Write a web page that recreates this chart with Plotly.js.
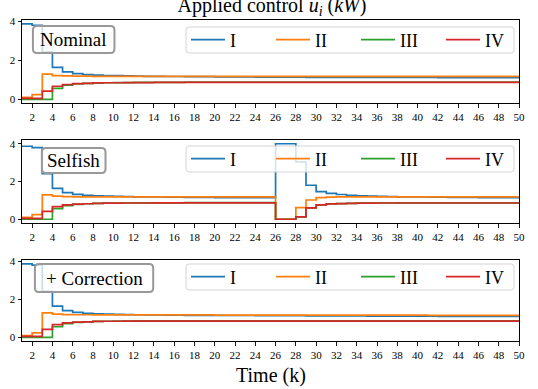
<!DOCTYPE html>
<html>
<head>
<meta charset="utf-8">
<script src="https://cdn.plot.ly/plotly-3.0.1.min.js"></script>
<style>html,body{margin:0;padding:0;background:#fff;} #chart{width:538px;height:389px;}</style>
</head>
<body>
<div id="chart"></div>
<script>
// ---- data ----
const k = [1,2,3,4,5,6,7,8,9,10,11,12,13,14,15,16,17,18,19,20,21,22,23,24,25,26,27,28,29,30,31,32,33,34,35,36,37,38,39,40,41,42,43,44,45,46,47,48,49,50];
const seriesNames = ['I', 'II', 'III', 'IV'];
const panelLabels = ['Nominal', 'Selfish', '+ Correction'];

const nominal_I   = [3.87,3.80,2.42,1.64,1.41,1.32,1.27,1.24,1.22,1.21,1.20,1.19,1.18,1.18,1.17,1.17,1.16,1.16,1.16,1.15,1.15,1.15,1.15,1.14,1.14,1.14,1.14,1.14,1.13,1.13,1.13,1.13,1.13,1.13,1.12,1.12,1.12,1.12,1.12,1.12,1.12,1.11,1.11,1.11,1.11,1.11,1.11,1.11,1.11,1.11];
const nominal_II  = [0.10,0.24,1.29,1.22,1.20,1.19,1.19,1.18,1.18,1.18,1.18,1.18,1.18,1.18,1.18,1.18,1.18,1.18,1.18,1.18,1.18,1.18,1.18,1.18,1.18,1.18,1.18,1.18,1.18,1.18,1.18,1.18,1.18,1.18,1.18,1.18,1.18,1.18,1.18,1.18,1.18,1.18,1.18,1.18,1.18,1.18,1.18,1.18,1.18,1.18];
const nominal_III = [0.00,0.00,0.00,0.56,0.72,0.79,0.82,0.84,0.85,0.86,0.86,0.87,0.87,0.87,0.87,0.87,0.88,0.88,0.88,0.88,0.88,0.88,0.88,0.88,0.88,0.88,0.88,0.88,0.88,0.88,0.88,0.88,0.88,0.88,0.88,0.88,0.88,0.88,0.88,0.88,0.88,0.88,0.88,0.88,0.88,0.88,0.88,0.88,0.88,0.88];
const nominal_IV  = [0.05,0.05,0.42,0.67,0.76,0.80,0.82,0.84,0.85,0.85,0.86,0.86,0.86,0.87,0.87,0.87,0.87,0.87,0.87,0.87,0.87,0.87,0.87,0.87,0.87,0.87,0.87,0.87,0.87,0.87,0.87,0.87,0.87,0.87,0.87,0.87,0.87,0.87,0.87,0.87,0.87,0.87,0.87,0.87,0.87,0.87,0.87,0.87,0.87,0.87];

const selfish_I   = [3.87,3.80,2.42,1.64,1.41,1.32,1.27,1.24,1.22,1.21,1.20,1.19,1.18,1.18,1.17,1.17,1.16,1.16,1.16,1.15,1.15,1.15,1.15,1.14,1.14,4.00,4.00,3.04,1.80,1.46,1.37,1.31,1.27,1.24,1.22,1.21,1.20,1.19,1.18,1.18,1.17,1.17,1.16,1.16,1.16,1.15,1.15,1.15,1.15,1.15];
const selfish_II  = [0.10,0.24,1.29,1.22,1.20,1.19,1.19,1.18,1.18,1.18,1.18,1.18,1.18,1.18,1.18,1.18,1.18,1.18,1.18,1.18,1.18,1.18,1.18,1.18,1.18,0.00,0.00,0.62,1.02,1.14,1.17,1.18,1.18,1.18,1.18,1.18,1.18,1.18,1.18,1.18,1.18,1.18,1.18,1.18,1.18,1.18,1.18,1.18,1.18,1.18];
const selfish_III = [0.00,0.00,0.00,0.56,0.72,0.79,0.82,0.84,0.85,0.86,0.86,0.87,0.87,0.87,0.87,0.87,0.88,0.88,0.88,0.88,0.88,0.88,0.88,0.88,0.88,0.00,0.00,0.12,0.60,0.76,0.81,0.83,0.84,0.85,0.86,0.86,0.86,0.87,0.87,0.87,0.87,0.87,0.87,0.87,0.87,0.87,0.87,0.87,0.87,0.87];
const selfish_IV  = [0.05,0.05,0.42,0.67,0.76,0.80,0.82,0.84,0.85,0.85,0.86,0.86,0.86,0.87,0.87,0.87,0.87,0.87,0.87,0.87,0.87,0.87,0.87,0.87,0.87,0.00,0.00,0.12,0.60,0.76,0.81,0.83,0.84,0.85,0.85,0.86,0.86,0.86,0.86,0.86,0.86,0.86,0.86,0.86,0.86,0.86,0.86,0.86,0.86,0.86];

const correction_I   = [3.87,3.80,2.42,1.64,1.41,1.32,1.27,1.24,1.22,1.21,1.20,1.19,1.18,1.18,1.17,1.17,1.16,1.16,1.16,1.15,1.15,1.15,1.15,1.14,1.14,1.14,1.14,1.14,1.13,1.13,1.13,1.13,1.13,1.13,1.12,1.12,1.12,1.12,1.12,1.12,1.12,1.11,1.11,1.11,1.11,1.11,1.11,1.11,1.10,1.10];
const correction_II  = [0.10,0.24,1.29,1.22,1.20,1.19,1.19,1.18,1.18,1.18,1.18,1.18,1.18,1.18,1.18,1.18,1.18,1.18,1.18,1.17,1.17,1.17,1.17,1.17,1.17,1.17,1.17,1.17,1.17,1.17,1.17,1.17,1.17,1.17,1.17,1.17,1.17,1.17,1.17,1.17,1.16,1.16,1.16,1.16,1.16,1.16,1.16,1.16,1.16,1.16];
const correction_III = [0.00,0.00,0.00,0.56,0.72,0.79,0.82,0.84,0.85,0.86,0.86,0.87,0.87,0.87,0.87,0.87,0.87,0.87,0.87,0.87,0.87,0.87,0.87,0.87,0.87,0.87,0.87,0.87,0.87,0.87,0.87,0.87,0.87,0.87,0.87,0.87,0.87,0.87,0.87,0.87,0.87,0.87,0.87,0.87,0.87,0.87,0.87,0.87,0.87,0.87];
const correction_IV  = [0.05,0.05,0.42,0.67,0.76,0.80,0.82,0.84,0.85,0.85,0.86,0.86,0.86,0.86,0.86,0.86,0.86,0.86,0.86,0.86,0.86,0.86,0.86,0.86,0.86,0.86,0.86,0.86,0.86,0.86,0.86,0.86,0.86,0.86,0.86,0.86,0.86,0.86,0.86,0.86,0.86,0.86,0.86,0.86,0.86,0.86,0.86,0.86,0.86,0.86];

const xTicks = [2,4,6,8,10,12,14,16,18,20,22,24,26,28,30,32,34,36,38,40,42,44,46,48,50];
const yTicks = [0,2,4];

// ---- styling ----
const colors = ['#1f77b4', '#ff7f0e', '#2ca02c', '#d62728'];
const FONT = 'Liberation Serif, Times New Roman, serif';
const panels = [
  [nominal_I, nominal_II, nominal_III, nominal_IV],
  [selfish_I, selfish_II, selfish_III, selfish_IV],
  [correction_I, correction_II, correction_III, correction_IV]
];

// pixel geometry of plot area
const W = 538, H = 389, L = 22, R = 16, T = 20, B = 48;
const PW = W - L - R, PH = H - T - B;
const px2x = p => (p - L) / PW;
const py2y = p => (H - B - p) / PH;

const traces = [];
panels.forEach((series, pi) => {
  series.forEach((vals, si) => {
    traces.push({
      x: k, y: vals,
      type: 'scatter', mode: 'lines',
      line: {shape: 'hv', color: colors[si], width: 1.7},
      name: seriesNames[si],
      xaxis: pi === 0 ? 'x' : 'x' + (pi + 1),
      yaxis: pi === 0 ? 'y' : 'y' + (pi + 1),
      legend: pi === 0 ? 'legend' : 'legend' + (pi + 1),
      hoverinfo: 'skip'
    });
  });
});

const domains = [[py2y(103), py2y(20)], [py2y(223), py2y(140)], [0, py2y(260)]];
const yRanges = [[-0.19, 4.07], [-0.2, 4.2], [-0.19, 4.07]];

function xAxis(anchor) {
  return {
    anchor: anchor, domain: [0, 1], range: [1, 50],
    tickmode: 'array', tickvals: xTicks, ticktext: xTicks.map(String),
    ticks: 'outside', ticklen: 3.5, tickwidth: 0.9, tickcolor: '#000',
    showline: true, mirror: true, linecolor: '#000', linewidth: 1,
    showgrid: false, zeroline: false,
    tickfont: {family: FONT, size: 11, color: '#000'}
  };
}
function yAxis(anchor, dom, rng) {
  return {
    anchor: anchor, domain: dom, range: rng,
    tickmode: 'array', tickvals: yTicks, ticktext: yTicks.map(String),
    ticks: 'outside', ticklen: 3.5, tickwidth: 0.9, tickcolor: '#000',
    showline: true, mirror: true, linecolor: '#000', linewidth: 1,
    showgrid: false, zeroline: false,
    tickfont: {family: FONT, size: 11, color: '#000'}
  };
}
// legend frames (rounded boxes) in pixels: [left, top, right, bottom]
const legendBoxes = [[187, 27, 517, 53], [187, 146, 517, 172], [187, 264, 517, 290]];
function legendAt(b) {
  return {
    orientation: 'h', x: px2x(b[0]), xanchor: 'left', y: py2y((b[1] + b[3]) / 2), yanchor: 'middle',
    xref: 'paper', yref: 'paper',
    bgcolor: 'rgba(0,0,0,0)', borderwidth: 0,
    font: {family: FONT, size: 18, color: '#000'},
    itemwidth: 34, entrywidth: 36, entrywidthmode: 'pixels', traceorder: 'normal',
    valign: 'middle'
  };
}

// rounded box shape in paper coords
function roundedBox(x0p, y0p, x1p, y1p, r, fill, lineColor, lineWidth) {
  const X = px2x, Y = py2y;
  const p = [
    'M', X(x0p + r), Y(y0p),
    'L', X(x1p - r), Y(y0p),
    'Q', X(x1p), Y(y0p), X(x1p), Y(y0p + r),
    'L', X(x1p), Y(y1p - r),
    'Q', X(x1p), Y(y1p), X(x1p - r), Y(y1p),
    'L', X(x0p + r), Y(y1p),
    'Q', X(x0p), Y(y1p), X(x0p), Y(y1p - r),
    'L', X(x0p), Y(y0p + r),
    'Q', X(x0p), Y(y0p), X(x0p + r), Y(y0p), 'Z'
  ];
  let s = '';
  for (let i = 0; i < p.length; i++) {
    const v = p[i];
    if (typeof v === 'string') s += v + ' ';
    else { s += v.toFixed(5) + (typeof p[i + 1] === 'number' ? ',' : ' '); }
  }
  return {
    type: 'path', path: s.trim(), xref: 'paper', yref: 'paper', layer: 'above',
    fillcolor: fill, line: {color: lineColor, width: lineWidth}
  };
}
const boxes = [[33, 26, 115, 53], [42, 148, 106, 173], [35, 264, 154, 292]];
const shapes = legendBoxes.map(b => roundedBox(b[0], b[1], b[2], b[3], 3, 'rgba(255,255,255,0.8)', '#d4d4d4', 1))
  .concat(boxes.map(b => roundedBox(b[0], b[1], b[2], b[3], 4, 'rgba(255,255,255,0.75)', '#999999', 2)));
const annotations = boxes.map((b, i) => ({
  text: panelLabels[i], xref: 'paper', yref: 'paper',
  x: px2x((b[0] + b[2]) / 2), y: py2y((b[1] + b[3]) / 2),
  xanchor: 'center', yanchor: 'middle', showarrow: false,
  font: {family: FONT, size: 19, color: '#000'}
}));
annotations.push({
  text: 'Time (k)', xref: 'paper', yref: 'paper', x: 0.5, y: py2y(375),
  xanchor: 'center', yanchor: 'middle', showarrow: false,
  font: {family: FONT, size: 20, color: '#000'}
});

const layout = {
  width: W, height: H,
  margin: {l: L, r: R, t: T, b: B, pad: 0},
  paper_bgcolor: '#fff', plot_bgcolor: '#fff',
  title: {
    text: 'Applied control <i>u</i><sub><i>i</i></sub> (<i>kW</i>)',
    x: 0.5 + (L - R) / 2 / W, xanchor: 'center', xref: 'container',
    y: 1 - 5 / H, yanchor: 'middle', yref: 'container',
    font: {family: FONT, size: 20, color: '#000'}
  },
  xaxis: xAxis('y'), yaxis: yAxis('x', domains[0], yRanges[0]),
  xaxis2: xAxis('y2'), yaxis2: yAxis('x2', domains[1], yRanges[1]),
  xaxis3: xAxis('y3'), yaxis3: yAxis('x3', domains[2], yRanges[2]),
  legend: legendAt(legendBoxes[0]), legend2: legendAt(legendBoxes[1]), legend3: legendAt(legendBoxes[2]),
  shapes: shapes, annotations: annotations,
  showlegend: true
};

Plotly.newPlot('chart', traces, layout, {displayModeBar: false, staticPlot: true});
</script>
</body>
</html>
